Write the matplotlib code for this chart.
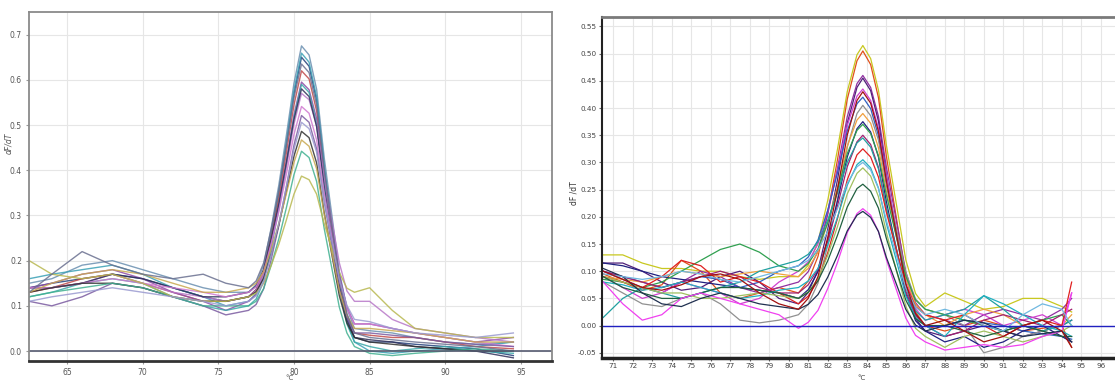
import numpy as np
import matplotlib.pyplot as plt

# Curvas de fusao (dF/dT) - dois paineis

# painel esquerdo: temperaturas
temp_a = [62.5, 64, 66, 68, 70, 72, 74, 75.5, 77,
          77.5, 78, 78.5, 79, 79.5, 80, 80.5, 81, 81.5, 82, 82.5, 83, 83.5,
          84, 85, 86.5, 88, 90, 92, 94.5]

curvas_a = [
    [0.15, 0.16, 0.19, 0.20, 0.18, 0.16, 0.14, 0.13, 0.13,
     0.147, 0.19, 0.273, 0.367, 0.477, 0.592, 0.675, 0.655, 0.579, 0.428, 0.302, 0.176, 0.094,
     0.05, 0.045, 0.04, 0.03, 0.02, 0.015, 0.02],
    [0.14, 0.15, 0.16, 0.17, 0.16, 0.14, 0.12, 0.11, 0.12,
     0.136, 0.179, 0.259, 0.35, 0.457, 0.569, 0.65, 0.63, 0.555, 0.405, 0.28, 0.155, 0.074,
     0.03, 0.02, 0.02, 0.015, 0.01, 0.005, -0.01],
    [0.16, 0.17, 0.18, 0.19, 0.17, 0.14, 0.12, 0.10, 0.11,
     0.127, 0.171, 0.254, 0.349, 0.46, 0.576, 0.659, 0.639, 0.562, 0.407, 0.278, 0.149, 0.065,
     0.02, 0.0, -0.005, 0.0, 0.005, 0.01, 0.02],
    [0.13, 0.14, 0.16, 0.17, 0.15, 0.13, 0.11, 0.11, 0.12,
     0.135, 0.176, 0.251, 0.337, 0.438, 0.544, 0.62, 0.602, 0.531, 0.391, 0.274, 0.157, 0.081,
     0.04, 0.035, 0.03, 0.03, 0.02, 0.01, 0.005],
    [0.14, 0.15, 0.17, 0.18, 0.16, 0.13, 0.11, 0.09, 0.11,
     0.125, 0.164, 0.237, 0.321, 0.419, 0.522, 0.595, 0.578, 0.514, 0.384, 0.276, 0.168, 0.098,
     0.06, 0.06, 0.05, 0.04, 0.03, 0.02, 0.03],
    [0.12, 0.13, 0.15, 0.16, 0.15, 0.12, 0.10, 0.09, 0.10,
     0.115, 0.154, 0.229, 0.313, 0.412, 0.516, 0.59, 0.572, 0.503, 0.365, 0.25, 0.135, 0.06,
     0.02, 0.01, 0.0, 0.005, 0.01, 0.0, -0.005],
    [0.14, 0.14, 0.15, 0.17, 0.15, 0.13, 0.12, 0.11, 0.12,
     0.134, 0.17, 0.238, 0.316, 0.407, 0.502, 0.57, 0.556, 0.499, 0.385, 0.29, 0.195, 0.133,
     0.11, 0.11, 0.07, 0.05, 0.04, 0.03, 0.02],
    [0.14, 0.14, 0.15, 0.17, 0.16, 0.14, 0.12, 0.12, 0.13,
     0.144, 0.18, 0.248, 0.326, 0.417, 0.512, 0.58, 0.563, 0.496, 0.363, 0.252, 0.141, 0.069,
     0.03, 0.025, 0.02, 0.01, 0.005, 0.0, -0.015],
    [0.14, 0.14, 0.15, 0.16, 0.15, 0.14, 0.13, 0.12, 0.13,
     0.142, 0.176, 0.238, 0.308, 0.391, 0.479, 0.541, 0.526, 0.467, 0.351, 0.254, 0.157, 0.094,
     0.06, 0.06, 0.05, 0.04, 0.03, 0.02, 0.01],
    [0.11, 0.10, 0.12, 0.15, 0.14, 0.12, 0.10, 0.08, 0.09,
     0.103, 0.138, 0.203, 0.277, 0.364, 0.455, 0.521, 0.506, 0.447, 0.331, 0.234, 0.137, 0.074,
     0.04, 0.04, 0.035, 0.03, 0.02, 0.015, 0.01],
    [0.13, 0.14, 0.15, 0.15, 0.14, 0.12, 0.11, 0.11, 0.12,
     0.131, 0.161, 0.216, 0.279, 0.353, 0.431, 0.486, 0.472, 0.416, 0.306, 0.214, 0.122, 0.062,
     0.03, 0.02, 0.015, 0.01, 0.005, 0.0, 0.0],
    [0.13, 0.15, 0.17, 0.18, 0.17, 0.15, 0.13, 0.13, 0.14,
     0.15, 0.176, 0.226, 0.282, 0.348, 0.417, 0.467, 0.453, 0.403, 0.302, 0.218, 0.134, 0.079,
     0.05, 0.05, 0.045, 0.04, 0.03, 0.02, 0.02],
    [0.12, 0.13, 0.14, 0.15, 0.14, 0.12, 0.10, 0.10, 0.10,
     0.11, 0.138, 0.19, 0.248, 0.317, 0.39, 0.442, 0.428, 0.375, 0.271, 0.184, 0.097, 0.04,
     0.01, -0.005, -0.01, -0.005, 0.0, 0.005, 0.0],
    [0.20, 0.17, 0.16, 0.17, 0.15, 0.12, 0.11, 0.11, 0.12,
     0.128, 0.15, 0.19, 0.236, 0.29, 0.347, 0.387, 0.379, 0.347, 0.282, 0.228, 0.174, 0.139,
     0.13, 0.14, 0.09, 0.05, 0.04, 0.03, 0.03],
    [0.13, 0.17, 0.22, 0.19, 0.17, 0.16, 0.17, 0.15, 0.14,
     0.155, 0.195, 0.27, 0.355, 0.455, 0.56, 0.635, 0.616, 0.544, 0.40, 0.28, 0.16, 0.082,
     0.04, 0.03, 0.025, 0.02, 0.015, 0.01, 0.0],
    [0.11, 0.12, 0.13, 0.14, 0.13, 0.12, 0.11, 0.10, 0.11,
     0.122, 0.154, 0.214, 0.282, 0.362, 0.446, 0.506, 0.492, 0.44, 0.334, 0.246, 0.158, 0.101,
     0.07, 0.065, 0.05, 0.04, 0.035, 0.03, 0.04],
]
cores_a = ['#6a8fb0', '#23407a', '#3aa0b5', '#c04a4a', '#8e4aa8', '#3aa8a8',
           '#b878c8', '#30305a', '#d078d0', '#7a5aa0', '#303030', '#c8a850',
           '#40b090', '#b8b850', '#6a7090', '#9a9ad0']

# painel direito: temperaturas
temp_b = [70.5, 71.5, 72.5, 73.5, 74.5, 75.5, 76.5, 77.5, 78.5, 79.5, 80.5,
          81, 81.5, 82, 82.5, 83, 83.5, 83.8,
          84.2, 84.6, 85, 85.5, 86, 86.5, 87,
          88, 89, 90, 91, 92, 93, 94, 94.5]

curvas_b = [
    [0.13, 0.13, 0.115, 0.105, 0.105, 0.10, 0.10, 0.09, 0.085, 0.09, 0.09,
     0.111, 0.154, 0.23, 0.324, 0.43, 0.498, 0.515,
     0.491, 0.433, 0.333, 0.227, 0.121, 0.059, 0.035,
     0.06, 0.045, 0.03, 0.035, 0.05, 0.05, 0.035, 0.025],
    [0.095, 0.08, 0.065, 0.075, 0.12, 0.10, 0.06, 0.05, 0.06, 0.07, 0.06,
     0.082, 0.127, 0.207, 0.305, 0.416, 0.487, 0.505,
     0.48, 0.419, 0.313, 0.202, 0.091, 0.025, 0.0,
     -0.01, 0.0, 0.01, 0.0, -0.01, -0.005, 0.0, -0.04],
    [0.10, 0.085, 0.07, 0.06, 0.08, 0.10, 0.09, 0.07, 0.06, 0.07, 0.08,
     0.099, 0.137, 0.205, 0.289, 0.384, 0.445, 0.46,
     0.438, 0.385, 0.293, 0.196, 0.099, 0.042, 0.02,
     0.01, 0.0, 0.02, 0.03, 0.02, 0.01, 0.03, 0.05],
    [0.115, 0.115, 0.10, 0.08, 0.065, 0.07, 0.09, 0.10, 0.08, 0.05, 0.04,
     0.061, 0.102, 0.177, 0.268, 0.372, 0.438, 0.455,
     0.432, 0.376, 0.278, 0.176, 0.074, 0.013, -0.01,
     -0.02, -0.01, 0.0, -0.01, -0.02, -0.01, 0.0, 0.01],
    [0.09, 0.07, 0.05, 0.06, 0.08, 0.07, 0.06, 0.04, 0.05, 0.08, 0.10,
     0.117, 0.15, 0.211, 0.284, 0.368, 0.422, 0.435,
     0.414, 0.363, 0.274, 0.18, 0.087, 0.031, 0.01,
     0.02, 0.03, 0.02, 0.0, 0.01, 0.02, 0.0, 0.06],
    [0.10, 0.09, 0.08, 0.07, 0.08, 0.09, 0.085, 0.07, 0.08, 0.10, 0.11,
     0.126, 0.157, 0.212, 0.281, 0.358, 0.408, 0.42,
     0.399, 0.349, 0.26, 0.168, 0.076, 0.021, 0.0,
     0.0, 0.01, 0.005, 0.0, -0.01, -0.015, -0.02, -0.025],
    [0.08, 0.06, 0.04, 0.035, 0.05, 0.06, 0.04, 0.01, 0.005, 0.01, 0.02,
     0.039, 0.078, 0.147, 0.232, 0.328, 0.39, 0.405,
     0.386, 0.341, 0.263, 0.18, 0.098, 0.049, 0.03,
     0.02, 0.0, -0.05, -0.04, -0.02, -0.01, -0.02, -0.03],
    [0.09, 0.085, 0.08, 0.09, 0.10, 0.095, 0.09, 0.095, 0.10, 0.095, 0.09,
     0.105, 0.135, 0.189, 0.255, 0.33, 0.378, 0.39,
     0.372, 0.327, 0.249, 0.168, 0.087, 0.039, 0.02,
     0.0, 0.02, 0.03, 0.02, 0.0, -0.01, 0.0, 0.02],
    [0.115, 0.11, 0.10, 0.09, 0.085, 0.08, 0.075, 0.07, 0.065, 0.06, 0.05,
     0.066, 0.099, 0.157, 0.229, 0.31, 0.362, 0.375,
     0.356, 0.31, 0.229, 0.144, 0.059, 0.009, -0.01,
     -0.03, -0.02, -0.04, -0.03, -0.01, 0.0, -0.02, -0.03],
    [0.085, 0.08, 0.07, 0.08, 0.10, 0.12, 0.14, 0.15, 0.135, 0.11, 0.10,
     0.114, 0.141, 0.189, 0.249, 0.316, 0.359, 0.37,
     0.353, 0.312, 0.241, 0.166, 0.091, 0.047, 0.03,
     0.02, 0.01, 0.0, -0.01, 0.0, 0.01, 0.02, 0.0],
    [0.10, 0.09, 0.08, 0.07, 0.08, 0.09, 0.10, 0.09, 0.07, 0.06, 0.06,
     0.075, 0.104, 0.156, 0.22, 0.292, 0.338, 0.35,
     0.333, 0.291, 0.217, 0.14, 0.063, 0.018, 0.0,
     -0.02, -0.01, 0.01, 0.02, 0.01, 0.0, 0.02, 0.03],
    [0.015, 0.05, 0.07, 0.06, 0.05, 0.06, 0.07, 0.08, 0.10, 0.11, 0.12,
     0.131, 0.154, 0.194, 0.244, 0.30, 0.336, 0.345,
     0.328, 0.288, 0.218, 0.144, 0.07, 0.027, 0.01,
     0.02, 0.03, 0.055, 0.03, 0.0, -0.01, 0.0, 0.01],
    [0.09, 0.08, 0.07, 0.09, 0.12, 0.11, 0.08, 0.09, 0.08, 0.06, 0.04,
     0.054, 0.083, 0.134, 0.197, 0.268, 0.314, 0.325,
     0.31, 0.273, 0.209, 0.142, 0.075, 0.035, 0.02,
     0.01, 0.02, 0.0, -0.02, 0.0, 0.01, 0.0, 0.08],
    [0.08, 0.075, 0.065, 0.07, 0.08, 0.07, 0.06, 0.05, 0.055, 0.065, 0.07,
     0.082, 0.105, 0.148, 0.199, 0.258, 0.296, 0.305,
     0.29, 0.253, 0.189, 0.122, 0.055, 0.015, 0.0,
     -0.02, 0.02, 0.055, 0.04, 0.02, 0.0, -0.01, -0.02],
    [0.09, 0.08, 0.07, 0.06, 0.06, 0.05, 0.05, 0.055, 0.06, 0.055, 0.05,
     0.062, 0.086, 0.129, 0.182, 0.242, 0.28, 0.29,
     0.275, 0.237, 0.172, 0.104, 0.036, -0.005, -0.02,
     -0.04, -0.02, -0.01, -0.02, -0.03, -0.02, -0.01, 0.0],
    [0.09, 0.07, 0.06, 0.05, 0.05, 0.06, 0.07, 0.07, 0.065, 0.06, 0.05,
     0.061, 0.082, 0.119, 0.166, 0.218, 0.252, 0.26,
     0.247, 0.216, 0.161, 0.104, 0.047, 0.013, 0.0,
     0.0, -0.01, -0.02, -0.01, 0.0, -0.01, -0.02, -0.02],
    [0.08, 0.04, 0.01, 0.02, 0.05, 0.06, 0.05, 0.04, 0.03, 0.02, -0.005,
     0.006, 0.028, 0.068, 0.116, 0.171, 0.206, 0.215,
     0.203, 0.173, 0.122, 0.068, 0.014, -0.018, -0.03,
     -0.045, -0.04, -0.035, -0.04, -0.035, -0.02, -0.01, 0.06],
    [0.105, 0.09, 0.06, 0.04, 0.035, 0.05, 0.06, 0.05, 0.04, 0.035, 0.03,
     0.039, 0.057, 0.089, 0.129, 0.174, 0.203, 0.21,
     0.199, 0.173, 0.126, 0.078, 0.03, 0.001, -0.01,
     0.0, 0.01, 0.005, -0.01, -0.02, -0.015, -0.01, -0.03],
    [0.095, 0.09, 0.085, 0.09, 0.10, 0.095, 0.085, 0.08, 0.09, 0.10, 0.11,
     0.12, 0.139, 0.173, 0.215, 0.262, 0.292, 0.30,
     0.286, 0.252, 0.194, 0.132, 0.07, 0.034, 0.02,
     0.03, 0.02, 0.0, -0.01, 0.02, 0.04, 0.03, 0.0],
    [0.10, 0.085, 0.07, 0.065, 0.075, 0.09, 0.095, 0.085, 0.06, 0.04, 0.03,
     0.05, 0.09, 0.162, 0.25, 0.35, 0.414, 0.43,
     0.409, 0.357, 0.267, 0.172, 0.077, 0.022, 0.0,
     0.01, -0.01, -0.03, -0.02, 0.0, 0.01, -0.01, -0.04],
]
cores_b = ['#c8c820', '#e0501a', '#9030a0', '#50207a', '#d040d0', '#3060c0',
           '#909090', '#f0a040', '#202080', '#30a050', '#a02070', '#20a0a0',
           '#e02020', '#20b0c0', '#a0c060', '#206040', '#f040f0', '#203050',
           '#70b8e0', '#a01010']

ticks_xa = [65, 70, 75, 80, 85, 90, 95]
ticks_ya = [0.0, 0.1, 0.2, 0.3, 0.4, 0.5, 0.6, 0.7]
ticks_xb = list(range(71, 97))
ticks_yb = [-0.05, 0.0, 0.05, 0.10, 0.15, 0.20, 0.25, 0.30, 0.35, 0.40, 0.45, 0.50, 0.55]

fig = plt.figure(figsize=(11.15, 3.81), dpi=100)

# ---- painel esquerdo ----
ax1 = fig.add_axes([0.026, 0.0525, 0.469, 0.916])
for y, c in zip(curvas_a, cores_a):
    ax1.plot(temp_a, y, color=c, linewidth=1.0, alpha=0.85)
ax1.axhline(0, color='#555a70', linewidth=1.2)
ax1.set_xlim(62.49, 97.05)
ax1.set_ylim(-0.022, 0.75)
ax1.set_xticks(ticks_xa)
ax1.set_yticks(ticks_ya)
ax1.set_yticklabels([f"{v:.1f}" for v in ticks_ya])
ax1.grid(color='#e6e6e6', linewidth=0.8)
ax1.set_axisbelow(True)
ax1.tick_params(labelsize=5.5, labelcolor='#555555', length=2, color='#999999', pad=3)
for s in ['top', 'right', 'left']:
    ax1.spines[s].set_color('#8a8a8a')
    ax1.spines[s].set_linewidth(1.3)
ax1.spines['bottom'].set_color('#333333')
ax1.spines['bottom'].set_linewidth(2)
ax1.set_ylabel("dF/dT", fontsize=5.5, color='#555555', fontstyle='italic')
ax1.yaxis.set_label_coords(-0.030, 0.625)
fig.text(0.26, 0.0, "°C", fontsize=5, color='#555555', ha='center', va='bottom')

# ---- painel direito ----
ax2 = fig.add_axes([0.54, 0.0612, 0.46, 0.895])
for y, c in zip(curvas_b, cores_b):
    ax2.plot(temp_b, y, color=c, linewidth=0.9)
ax2.axhline(0, color='#2020c0', linewidth=1.0)
ax2.set_xlim(70.44, 96.72)
ax2.set_ylim(-0.059, 0.568)
ax2.set_xticks(ticks_xb)
ax2.set_yticks(ticks_yb)
ax2.set_yticklabels([f"{v:.2f}" for v in ticks_yb])
ax2.grid(color='#e6e6e6', linewidth=0.8)
ax2.set_axisbelow(True)
ax2.tick_params(labelsize=5.2, labelcolor='#444444', length=2, color='#666666', pad=2)
for lab in ax2.get_xticklabels() + ax2.get_yticklabels():
    lab.set_family(['Liberation Sans Narrow', 'DejaVu Sans'])
ax2.spines['top'].set_color('#7a7a7a')
ax2.spines['top'].set_linewidth(2)
ax2.spines['left'].set_color('#222222')
ax2.spines['left'].set_linewidth(1.5)
ax2.spines['bottom'].set_color('#222222')
ax2.spines['bottom'].set_linewidth(2.5)
ax2.spines['right'].set_visible(False)
ax2.set_ylabel("dF /dT", fontsize=5.5, color='#333333')
ax2.yaxis.set_label_coords(-0.046, 0.483)
fig.text(0.773, 0.0, "°C", fontsize=5, color='#444444', ha='center', va='bottom')

plt.savefig("out.png", dpi=100)
